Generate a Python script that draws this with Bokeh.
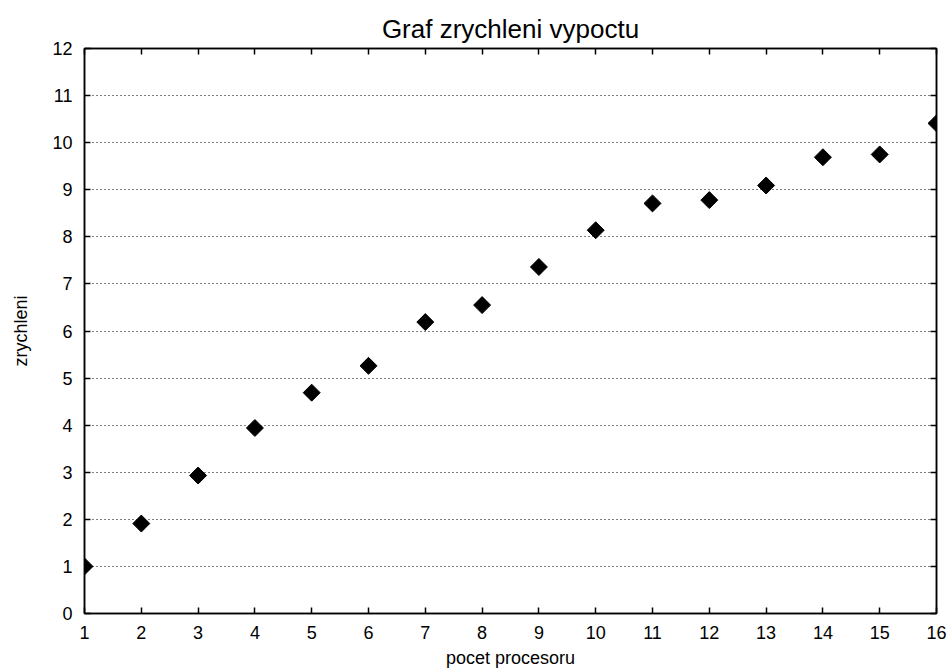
import math
from bokeh.plotting import figure
from bokeh.models import LinearAxis, Range1d, FixedTicker, Title
from bokeh.embed import file_html
from bokeh.resources import INLINE

processors = [1, 2, 3, 4, 5, 6, 7, 8, 9, 10, 11, 12, 13, 14, 15, 16]
speedup = [1.0, 1.91, 2.93, 3.94, 4.69, 5.26, 6.19, 6.55, 7.36, 8.14, 8.71, 8.78, 9.09, 9.69, 9.75, 10.41]
x_ticks = list(range(1, 17))
y_ticks = list(range(0, 13))
title_text = "Graf zrychleni vypoctu"

FONT = "Liberation Sans"

p = figure(width=950, height=670, output_backend="svg", toolbar_location=None,
           x_range=Range1d(1, 16), y_range=Range1d(0, 12),
           min_border_left=84, min_border_right=14, min_border_top=48, min_border_bottom=56,
           x_axis_location=None, y_axis_location=None)
p.title = Title(text=title_text, align="center", text_font=FONT,
                text_font_size="26px", text_font_style="normal", text_color="black")
p.outline_line_color = "black"
p.outline_line_width = 1.5

def style(ax, labels=True):
    ax.major_tick_in = 6
    ax.major_tick_out = 0
    ax.minor_tick_in = 0
    ax.minor_tick_out = 0
    ax.axis_line_color = "black"
    ax.axis_line_width = 1.5
    ax.major_tick_line_color = "black"
    ax.major_tick_line_width = 1.5
    ax.major_label_text_font = FONT
    ax.major_label_text_font_size = "18px"
    ax.major_label_text_color = "black"
    ax.axis_label_text_font = FONT
    ax.axis_label_text_font_size = "18px"
    ax.axis_label_text_font_style = "normal"
    ax.axis_label_text_color = "black"
    if not labels:
        ax.major_label_text_font_size = "0px"
        ax.major_label_text_alpha = 0

xb = LinearAxis(ticker=FixedTicker(ticks=x_ticks), axis_label="pocet procesoru")
style(xb)
xb.major_label_standoff = 12
xb.axis_label_standoff = 6
yl = LinearAxis(ticker=FixedTicker(ticks=y_ticks), axis_label="zrychleni")
style(yl)
yl.major_label_standoff = 12
yl.axis_label_standoff = 18
xt = LinearAxis(ticker=FixedTicker(ticks=x_ticks))
style(xt, labels=False)
yr = LinearAxis(ticker=FixedTicker(ticks=y_ticks))
style(yr, labels=False)
p.add_layout(xb, "below")
p.add_layout(yl, "left")
p.add_layout(xt, "above")
p.add_layout(yr, "right")

p.xgrid.visible = False
p.ygrid.ticker = FixedTicker(ticks=y_ticks)
p.ygrid.grid_line_color = "black"
p.ygrid.grid_line_dash = "1 3"
p.ygrid.grid_line_width = 1

p.scatter(processors, speedup, marker="square", angle=math.pi / 4, size=12,
          fill_color="black", line_color="black")

open("out.html", "w").write(file_html(p, INLINE))
